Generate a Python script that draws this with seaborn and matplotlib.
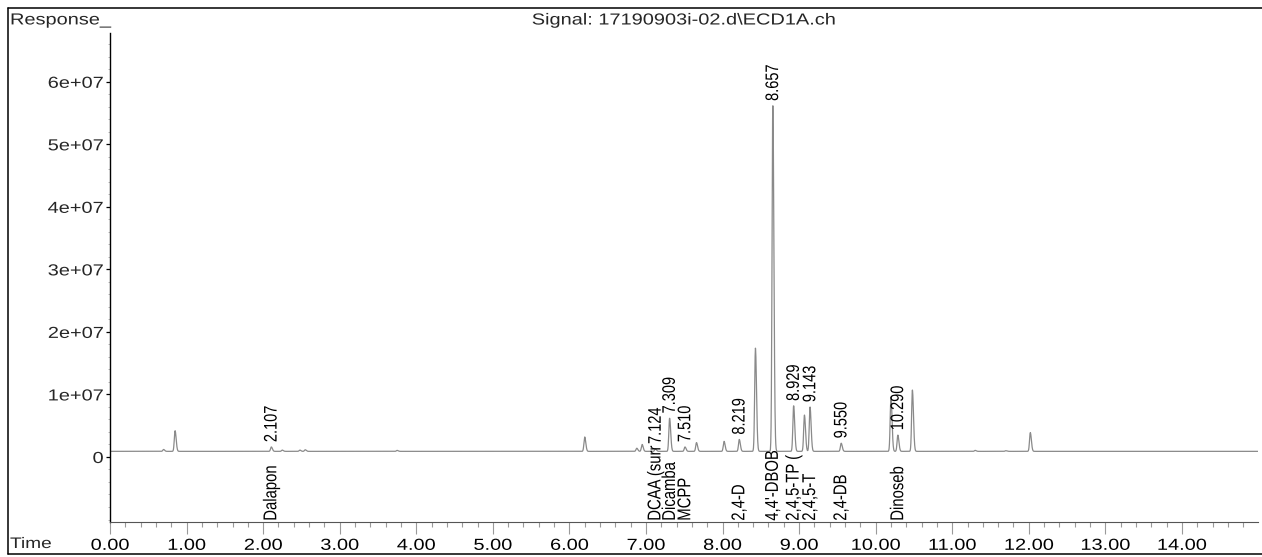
import numpy as np
import pandas as pd
import matplotlib
matplotlib.use("Agg")
import matplotlib.pyplot as plt
import seaborn as sns
from matplotlib.ticker import MultipleLocator, FixedLocator
from matplotlib.transforms import blended_transform_factory, Affine2D
from matplotlib.lines import Line2D
from matplotlib.patheffects import AbstractPathEffect

# ---------------- data ----------------
peak_times = [0.70, 0.85, 2.107, 2.25, 2.48, 2.55, 3.75, 6.20, 6.88, 6.95,
              7.124, 7.309, 7.510, 7.66, 8.02, 8.219, 8.43, 8.657, 8.929,
              9.07, 9.143, 9.550, 10.20, 10.290, 10.48, 11.30, 11.70, 12.02]
peak_heights = [0.3e6, 3.3e6, 0.7e6, 0.2e6, 0.2e6, 0.25e6, 0.15e6, 2.3e6, 0.5e6, 1.1e6,
                0.4e6, 5.3e6, 0.7e6, 1.4e6, 1.6e6, 1.9e6, 16.5e6, 55.4e6, 7.3e6,
                5.8e6, 7.1e6, 1.3e6, 8.7e6, 2.6e6, 9.8e6, 0.15e6, 0.1e6, 3.0e6]
baseline_level = 0.9e6

rt_labels = ["2.107", "7.124", "7.309", "7.510", "8.219", "8.657",
             "8.929", "9.143", "9.550", "10.290"]
rt_values = [2.107, 7.124, 7.309, 7.510, 8.219, 8.657, 8.929, 9.143, 9.550, 10.290]

compound_names = ["Dalapon", "DCAA (surr", "Dicamba", "MCPP", "2,4-D", "4,4'-DBOB",
                  "2,4,5-TP (", "2,4,5-T", "2,4-DB", "Dinoseb"]
compound_times = [2.107, 7.124, 7.309, 7.510, 8.219, 8.657, 8.929, 9.143, 9.550, 10.290]

y_ticks = [0, 1e7, 2e7, 3e7, 4e7, 5e7, 6e7]
y_tick_labels = ["0", "1e+07", "2e+07", "3e+07", "4e+07", "5e+07", "6e+07"]
x_ticks = list(range(0, 15))
x_tick_labels = ["%.2f" % v for v in x_ticks]

title_text = "Signal: 17190903i-02.d\\ECD1A.ch"

# ---------------- build the trace from the peak table ----------------
t = np.arange(0.0, 15.0001, 0.002)
resp = np.full_like(t, baseline_level)
for pt, ph in zip(peak_times, peak_heights):
    sig = np.where(t < pt, 0.010, 0.014)
    resp += ph * np.exp(-0.5 * ((t - pt) / sig) ** 2)
df = pd.DataFrame({"time": t, "response": resp})


# ---------------- wide-glyph text effect (reference text is stretched horizontally) ----
class StretchX(AbstractPathEffect):
    def __init__(self, factor=1.25, anchor="center"):
        super().__init__()
        self.factor = factor
        self.anchor = anchor

    def draw_path(self, renderer, gc, tpath, affine, rgbFace=None):
        verts = affine.transform(tpath.vertices)
        if len(verts) == 0:
            return
        x0, x1 = verts[:, 0].min(), verts[:, 0].max()
        cx = {"left": x0, "right": x1, "center": 0.5 * (x0 + x1)}[self.anchor]
        extra = Affine2D().translate(-cx, 0).scale(self.factor, 1.0).translate(cx, 0)
        renderer.draw_path(gc, tpath, affine + extra, rgbFace)


SX = 1.25

# ---------------- figure ----------------
sns.set_style("white")
plt.rcParams["font.family"] = ["Liberation Sans", "DejaVu Sans"]

W, H = 1262, 557
fig = plt.figure(figsize=(W / 100, H / 100), dpi=100)
ax_left, ax_right, ax_bottom, ax_top = 110, 1257.7, 521.7, 33
ax = fig.add_axes([ax_left / W, 1 - ax_bottom / H, (ax_right - ax_left) / W,
                   (ax_bottom - ax_top) / H])

sns.lineplot(data=df, x="time", y="response", ax=ax, color="#8a8a8a",
             linewidth=0.9, estimator=None, sort=False)

ax.set_xlim(0, 14.99)
ax.set_ylim(-1.035e7, 6.78e7)
ax.set_xlabel("")
ax.set_ylabel("")

for s in ["top", "right"]:
    ax.spines[s].set_visible(False)
ax.spines["left"].set_color("black")
ax.spines["left"].set_linewidth(1.0)
ax.spines["bottom"].set_color("#555555")
ax.spines["bottom"].set_linewidth(0.8)

ax.xaxis.set_major_locator(FixedLocator(x_ticks))
ax.set_xticklabels(x_tick_labels)
ax.xaxis.set_minor_locator(MultipleLocator(0.2))
ax.yaxis.set_major_locator(FixedLocator(y_ticks))
ax.set_yticklabels(y_tick_labels)
ax.yaxis.set_minor_locator(MultipleLocator(2e6))

ax.tick_params(axis="x", which="major", direction="out", length=8.6, width=0.8,
               color="#9a9a9a", labelsize=11.5, pad=3, labelcolor="black", bottom=True)
ax.tick_params(axis="x", which="minor", direction="out", length=3.6, width=0.8,
               color="#9a9a9a", bottom=True)
ax.tick_params(axis="y", which="major", direction="out", length=3.2, width=0.9,
               color="black", labelsize=11.5, pad=1.5, left=True)
ax.tick_params(axis="y", which="minor", direction="out", length=1.8, width=0.6,
               color="#b0b0b0", left=True)

for lab in ax.get_xticklabels():
    lab.set_path_effects([StretchX(SX, "center")])
for lab in ax.get_yticklabels():
    lab.set_path_effects([StretchX(SX, "right")])

# retention time labels above the peaks
for lab, rt in zip(rt_labels, rt_values):
    m = (t > rt - 0.02) & (t < rt + 0.02)
    top = resp[m].max()
    ax.annotate(lab, xy=(rt, top), xytext=(0, 3.5), textcoords="offset points",
                rotation=90, ha="center", va="bottom", fontsize=10.5, color="black",
                path_effects=[StretchX(SX, "center")])

# compound names standing on the time axis
trans = blended_transform_factory(ax.transData, ax.transAxes)
for name, ct in zip(compound_names, compound_times):
    ax.text(ct, 0.002, name, transform=trans, rotation=90, ha="center",
            va="bottom", fontsize=10.7, color="black",
            path_effects=[StretchX(SX, "center")])

# header / footer texts
fig.text(10 / W, 1 - 20 / H, "Response_", ha="left", va="center", fontsize=11.5,
         path_effects=[StretchX(SX, "left")])
fig.text(10 / W, 1 - 544 / H, "Time", ha="left", va="center", fontsize=11,
         path_effects=[StretchX(SX, "left")])
fig.text((ax_left + ax_right) / 2 / W, 1 - 20 / H, title_text, ha="center",
         va="center", fontsize=11.5, path_effects=[StretchX(SX, "center")])

# outer frame
lw = 1.1
fig.add_artist(Line2D([8 / W, 1.0], [1 - 8 / H, 1 - 8 / H], color="black", lw=lw))
fig.add_artist(Line2D([8 / W, 8 / W], [3 / H, 1 - 8 / H], color="black", lw=lw))
fig.add_artist(Line2D([8 / W, 1.0], [3 / H, 3 / H], color="black", lw=lw))

fig.savefig("out.png", dpi=100)
